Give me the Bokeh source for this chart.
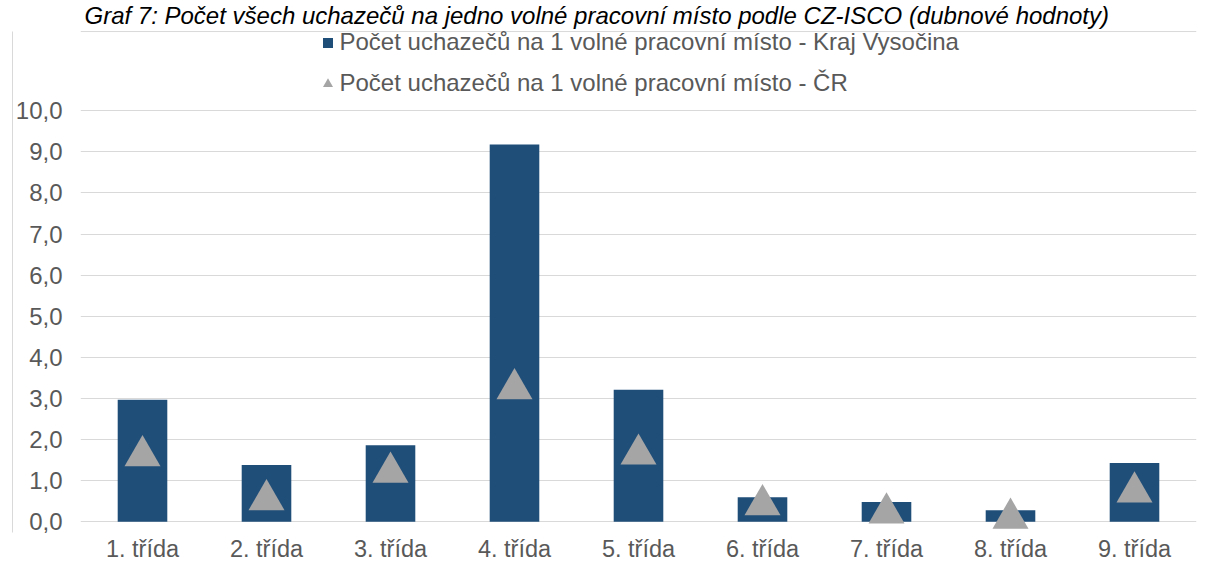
from bokeh.plotting import figure
from bokeh.models import (ColumnDataSource, FactorRange, Range1d, FixedTicker,
                          Legend, LegendItem, Label, Span, LinearAxis)
from bokeh.transform import dodge
from bokeh.embed import file_html
from bokeh.resources import INLINE

# ---------------- data ----------------
categories = ["1. třída", "2. třída", "3. třída", "4. třída", "5. třída",
              "6. třída", "7. třída", "8. třída", "9. třída"]
vysocina = [2.97, 1.38, 1.86, 9.18, 3.21, 0.60, 0.48, 0.28, 1.43]
cr = [1.73, 0.66, 1.33, 3.36, 1.77, 0.54, 0.34, 0.21, 0.85]
y_ticks = [0, 1, 2, 3, 4, 5, 6, 7, 8, 9, 10]
y_tick_labels = ["0,0", "1,0", "2,0", "3,0", "4,0", "5,0", "6,0", "7,0", "8,0", "9,0", "10,0"]
series_names = ["Počet uchazečů na 1 volné pracovní místo - Kraj Vysočina",
                "Počet uchazečů na 1 volné pracovní místo - ČR"]
title_text = "Graf 7: Počet všech uchazečů na jedno volné pracovní místo podle CZ-ISCO (dubnové hodnoty)"

# ---------------- style ----------------
FONT = "Liberation Sans"
TXT = "#595959"
BAR = "#1f4e79"
TRI = "#a5a5a5"
GRID = "#d9d9d9"

src = ColumnDataSource(dict(cat=categories, vys=vysocina, cr=cr))

p = figure(x_range=FactorRange(factors=categories, range_padding=0),
           y_range=Range1d(-0.2603, 12.681),
           width=1205, height=573,
           output_backend="svg", toolbar_location=None, tools="",
           min_border_left=80, min_border_right=9,
           min_border_top=0, min_border_bottom=41)
p.outline_line_color = None
p.background_fill_color = "white"
p.border_fill_color = "white"

p.vbar(x="cat", top="vys", width=0.4, source=src, fill_color=BAR, line_color=None)
tri = p.scatter(x="cat", y=dodge("cr", -0.126), source=src, marker="triangle",
                size=36, fill_color=TRI, line_color=None)
# legend key for the bar series: a small square (drawn with zero size in the plot)
sq = p.scatter(x="cat", y="vys", source=src, marker="square", size=0,
               fill_color=BAR, line_color=None)

# axes
p.yaxis.ticker = FixedTicker(ticks=y_ticks)
p.yaxis.major_label_overrides = {t: l for t, l in zip(y_ticks, y_tick_labels)}
for ax in (p.xaxis[0], p.yaxis[0]):
    ax.axis_line_color = None
    ax.major_tick_line_color = None
    ax.minor_tick_line_color = None
    ax.major_tick_out = 0
    ax.major_tick_in = 0
    ax.minor_tick_out = 0
    ax.major_label_text_font = FONT
    ax.major_label_text_color = TXT
p.yaxis.major_label_text_font_size = "24px"
p.xaxis.major_label_text_font_size = "23.5px"
p.yaxis.major_label_standoff = 18
p.xaxis.major_label_standoff = 3

p.xgrid.grid_line_color = None
p.ygrid.ticker = FixedTicker(ticks=y_ticks)
p.ygrid.grid_line_color = GRID
p.ygrid.grid_line_width = 1

# chart border: top edge (span) and left edge (outer, label-less axis rule)
p.add_layout(Span(location=11.926, dimension="width", line_color=GRID, line_width=1))
border_axis = LinearAxis(ticker=FixedTicker(ticks=[0]), major_label_overrides={0: ""},
                         axis_line_color=GRID, major_tick_line_color=None,
                         minor_tick_line_color=None, major_tick_out=0, major_tick_in=0,
                         minor_tick_out=0, major_label_standoff=0,
                         major_label_text_font_size="1px",
                         bounds=(-0.2603, 11.926))
p.add_layout(border_axis, "left")

# legend
legend = Legend(items=[LegendItem(label=series_names[0], renderers=[sq]),
                       LegendItem(label=series_names[1], renderers=[tri])],
                location=(234.5, 435), orientation="vertical",
                glyph_width=25, glyph_height=25, label_height=25, spacing=13,
                padding=0, margin=0, label_standoff=0,
                border_line_color=None, background_fill_alpha=0,
                label_text_font=FONT, label_text_font_size="24px",
                label_text_color=TXT)
p.add_layout(legend, "center")

# title
p.add_layout(Label(x=0.032, y=12.316, text=title_text, text_font=FONT,
                   text_font_size="24px", text_font_style="italic",
                   text_color="#000000", text_baseline="middle"))

open("out.html", "w").write(file_html(p, INLINE))
